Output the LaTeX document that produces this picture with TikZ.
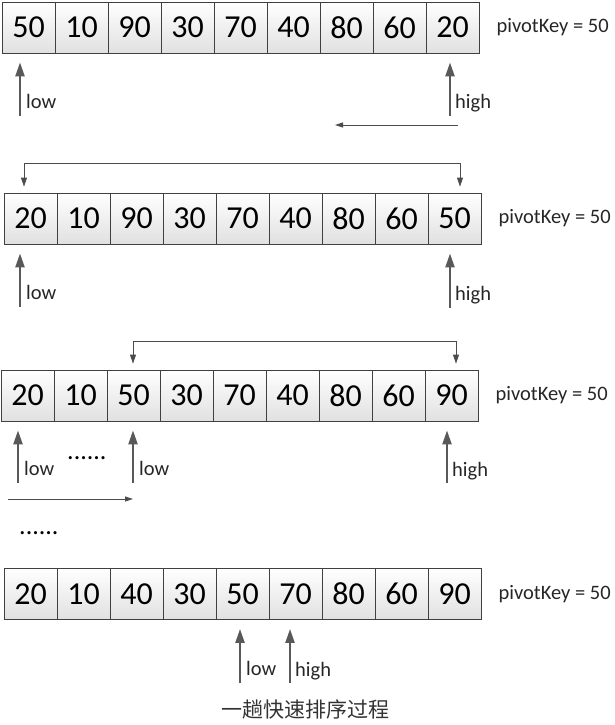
\documentclass[tikz,border=0pt]{standalone}
\usepackage{fontspec}
\setmainfont{Carlito}
\newfontfamily\cjkfont{Noto Sans CJK SC}
\usetikzlibrary{positioning, arrows.meta}

\tikzset{
    cell/.style={draw=black!75, line width=0.8pt, top color=white, bottom color=black!12,
        minimum width=53pt, minimum height=51pt, inner sep=0pt,
        font=\fontsize{32}{32}\selectfont},
    txt/.style={inner sep=0pt, text=black!85, font=\fontsize{20.5}{20.5}\selectfont},
    dots/.style={inner sep=0pt, font=\fontsize{26}{26}\selectfont},
    ptr/.style={-{Triangle[length=14pt,width=9pt]}, line width=2.2pt, draw=black!65, shorten >=9pt},
    move/.style={-{Triangle[length=8pt,width=5pt]}, line width=0.8pt, draw=black!70},
    swap/.style={{Triangle[length=9pt,width=6pt]}-{Triangle[length=9pt,width=6pt]},
        line width=0.8pt, draw=black!70, shorten <=6pt, shorten >=6pt},
}

\begin{document}
\begin{tikzpicture}[x=1pt, y=-1pt]
    \useasboundingbox (0,0) rectangle (615,725);

    % row 1
    \foreach \v [count=\i] in {50,10,90,30,70,40,80,60,20}
        \node[cell] (a\i) at ({2+53*\i-26.5}, 27.5) {\v};
    \node[txt, right=17pt of a9] (pa) {pivotKey = 50};

    \coordinate (lo1) at (20,116);
    \coordinate (hi1) at (450,116);
    \draw[ptr] (lo1) -- (lo1 |- a1.south);
    \draw[ptr] (hi1) -- (hi1 |- a9.south);
    \node[txt, anchor=base west] (lotxt1) at ([xshift=6pt, yshift=8pt]lo1) {low};
    \node[txt, anchor=base west] (hitxt1) at ([xshift=5pt, yshift=8pt]hi1) {high};

    \coordinate (mv1s) at (458,125);
    \coordinate (mv1e) at (335,125);
    \draw[move] (mv1s) -- (mv1e);

    % row 2
    \foreach \v [count=\i] in {20,10,90,30,70,40,80,60,50}
        \node[cell] (b\i) at ({4+53*\i-26.5}, 218.5) {\v};
    \node[txt, right=17pt of b9] (pb) {pivotKey = 50};

    \coordinate (sw1) at (24,163);
    \coordinate (sw2) at (460,163);
    \draw[swap] (sw1 |- b1.north) -- (sw1) -- (sw2) -- (sw2 |- b9.north);

    \coordinate (lo2) at (20,307);
    \coordinate (hi2) at (450,308);
    \draw[ptr] (lo2) -- (lo2 |- b1.south);
    \draw[ptr] (hi2) -- (hi2 |- b9.south);
    \node[txt, anchor=base west] (lotxt2) at ([xshift=6pt, yshift=8pt]lo2) {low};
    \node[txt, anchor=base west] (hitxt2) at ([xshift=5pt, yshift=8pt]hi2) {high};

    % row 3
    \foreach \v [count=\i] in {20,10,50,30,70,40,80,60,90}
        \node[cell] (c\i) at ({1+53*\i-26.5}, 395.5) {\v};
    \node[txt, right=17pt of c9] (pc) {pivotKey = 50};

    \coordinate (sw3) at (133,341);
    \coordinate (sw4) at (456,341);
    \draw[swap] (sw3 |- c3.north) -- (sw3) -- (sw4) -- (sw4 |- c9.north);

    \coordinate (lo3) at (18,483);
    \coordinate (lo4) at (133,483);
    \coordinate (hi3) at (447,483);
    \draw[ptr] (lo3) -- (lo3 |- c1.south);
    \draw[ptr] (lo4) -- (lo4 |- c3.south);
    \draw[ptr] (hi3) -- (hi3 |- c9.south);
    \node[txt, anchor=base west] (lotxt3) at ([xshift=6pt, yshift=8pt]lo3) {low};
    \node[txt, anchor=base west] (lotxt4) at ([xshift=6pt, yshift=8pt]lo4) {low};
    \node[txt, anchor=base west] (hitxt3) at ([xshift=5pt, yshift=7pt]hi3) {high};
    \node[dots, anchor=base west] (dt1) at (67,459) {......};

    \coordinate (mv2s) at (8,499);
    \coordinate (mv2e) at (133,499);
    \draw[move] (mv2s) -- (mv2e);

    \node[dots, anchor=base west] (dt2) at (19,534) {......};

    % row 4
    \foreach \v [count=\i] in {20,10,40,30,50,70,80,60,90}
        \node[cell] (d\i) at ({4+53*\i-26.5}, 594) {\v};
    \node[txt, right=17pt of d9] (pd) {pivotKey = 50};

    \coordinate (lo5) at (240,683);
    \coordinate (hi4) at (290,683);
    \draw[ptr] (lo5) -- (lo5 |- d5.south);
    \draw[ptr] (hi4) -- (hi4 |- d6.south);
    \node[txt, anchor=base west] (lotxt5) at ([xshift=6pt, yshift=8pt]lo5) {low};
    \node[txt, anchor=base west] (hitxt4) at ([xshift=5pt, yshift=7pt]hi4) {high};

    \node[font=\cjkfont\fontsize{21}{21}\selectfont, text=black!80] (cap) at (305,710) {一趟快速排序过程};
\end{tikzpicture}
\end{document}
